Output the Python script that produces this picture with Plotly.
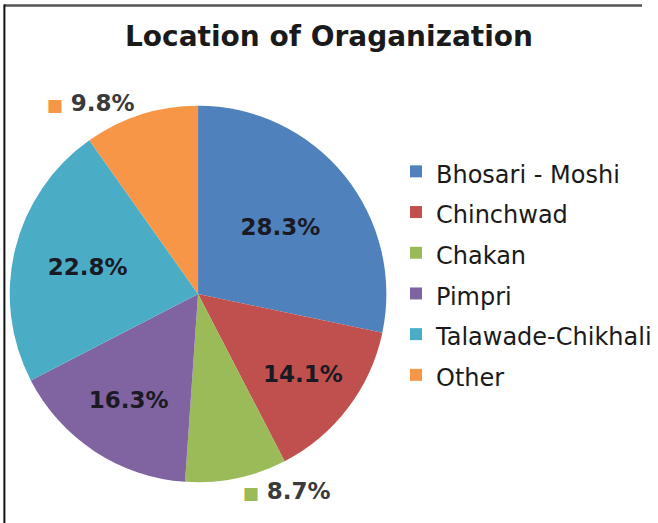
import plotly.graph_objects as go

# ---- data ----
categories = ["Bhosari - Moshi", "Chinchwad", "Chakan", "Pimpri", "Talawade-Chikhali", "Other"]
shares = [28.3, 14.1, 8.7, 16.3, 22.8, 9.8]
colors = ["#4F81BD", "#C0504D", "#9BBB59", "#8064A2", "#4BACC6", "#F79646"]
label_position = ["inside", "inside", "outside", "inside", "inside", "outside"]
title_text = "Location of Oraganization"

FONT = "DejaVu Sans"

legend_labels = [f"<span style='font-size:24px'>{c}</span>" for c in categories]
templates = []
for pos, col in zip(label_position, colors):
    if pos == "outside":
        templates.append(f"<span style='color:{col};font-size:17px'>■</span> %{{percent:.1%}}")
    else:
        templates.append("%{percent:.1%}")

W, H = 658, 523
cx, cy, r = 203, 294, 193

fig = go.Figure(
    go.Pie(
        labels=legend_labels,
        values=shares,
        sort=False,
        direction="clockwise",
        rotation=0,
        marker=dict(colors=colors, line=dict(width=0)),
        texttemplate=templates,
        textposition=label_position,
        insidetextorientation="horizontal",
        insidetextfont=dict(family=FONT, size=23, color="#1a1a24", weight="bold"),
        outsidetextfont=dict(family=FONT, size=23, color="#3a3a3a", weight="bold"),
        domain=dict(x=[(cx - r) / W, (cx + r) / W], y=[(H - cy - r) / H, (H - cy + r) / H]),
        hoverinfo="label+percent",
    )
)

fig.update_layout(
    width=W,
    height=H,
    margin=dict(l=0, r=0, t=0, b=0),
    paper_bgcolor="white",
    plot_bgcolor="white",
    title=dict(
        text=title_text,
        x=0.5,
        xanchor="center",
        y=1 - 36 / H,
        yanchor="middle",
        font=dict(family=FONT, size=28, color="#1a1a1a", weight="bold"),
    ),
    legend=dict(
        x=406 / W,
        xanchor="left",
        y=1 - 146 / H,
        yanchor="top",
        font=dict(family=FONT, size=29, color="#1a1a1a"),
        bgcolor="rgba(0,0,0,0)",
    ),
    shapes=[
        dict(type="line", xref="paper", yref="paper", x0=4 / W, x1=1, y0=1 - 5.5 / H, y1=1 - 5.5 / H,
             line=dict(color="#555555", width=2.5)),
        dict(type="line", xref="paper", yref="paper", x0=4.5 / W, x1=4.5 / W, y0=0, y1=1 - 4.5 / H,
             line=dict(color="#111111", width=2)),
    ],
)

fig.write_html(
    "out.html",
    config={"displayModeBar": False},
    post_script="document.body.style.margin='0px';document.body.style.overflow='hidden';",
)
